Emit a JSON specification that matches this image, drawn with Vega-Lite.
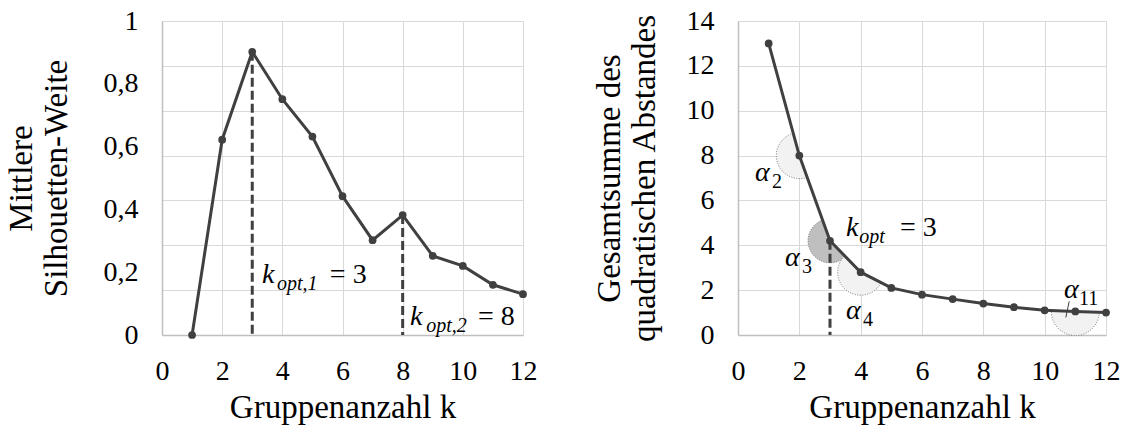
{
  "$schema": "https://vega.github.io/schema/vega-lite/v6.json",
  "padding": {"left": 5, "top": 7, "right": 3, "bottom": 3},
  "spacing": 56,
  "config": {
    "view": {"stroke": null},
    "font": "Times New Roman",
    "axis": {
      "labelFont": "Times New Roman", "labelFontSize": 28, "labelColor": "black",
      "titleFont": "Times New Roman", "titleFontSize": 33, "titleFontWeight": "normal", "titleColor": "black",
      "ticks": false, "gridColor": "#d9d9d9", "gridWidth": 1, "domainColor": "#bfbfbf", "domainWidth": 1.5,
      "labelFlush": false, "labelOverlap": false
    }
  },
  "datasets": {
    "sil": [
      {"k": 1, "v": 0}, {"k": 2, "v": 0.622}, {"k": 3, "v": 0.902}, {"k": 4, "v": 0.751},
      {"k": 5, "v": 0.632}, {"k": 6, "v": 0.442}, {"k": 7, "v": 0.302}, {"k": 8, "v": 0.382},
      {"k": 9, "v": 0.252}, {"k": 10, "v": 0.22}, {"k": 11, "v": 0.16}, {"k": 12, "v": 0.13}
    ],
    "ssd": [
      {"k": 1, "v": 13.0}, {"k": 2, "v": 8.0}, {"k": 3, "v": 4.2}, {"k": 4, "v": 2.8},
      {"k": 5, "v": 2.1}, {"k": 6, "v": 1.8}, {"k": 7, "v": 1.6}, {"k": 8, "v": 1.4},
      {"k": 9, "v": 1.24}, {"k": 10, "v": 1.1}, {"k": 11, "v": 1.05}, {"k": 12, "v": 1.0}
    ],
    "silOpt": [{"k": 3, "v": 0.902}, {"k": 8, "v": 0.382}],
    "ssdOpt": [{"k": 3, "v": 4.2}],
    "silAnn": [
      {"k": 3.32, "v": 0.166, "t": "k", "kind": "mi"},
      {"k": 3.82, "v": 0.166, "t": "opt,1", "kind": "sub"},
      {"k": 5.58, "v": 0.166, "t": "= 3", "kind": "mr"},
      {"k": 8.24, "v": 0.032, "t": "k", "kind": "mi"},
      {"k": 8.78, "v": 0.032, "t": "opt,2", "kind": "sub"},
      {"k": 10.5, "v": 0.032, "t": "= 8", "kind": "mr"}
    ],
    "ssdAnn": [
      {"k": 3.52, "v": 4.41, "t": "k", "kind": "mi"},
      {"k": 3.95, "v": 4.41, "t": "opt", "kind": "sub"},
      {"k": 5.28, "v": 4.41, "t": "= 3", "kind": "mr"},
      {"k": 0.554, "v": 6.87, "t": "α", "kind": "mi"},
      {"k": 1.11, "v": 6.87, "t": "2", "kind": "subr"},
      {"k": 1.53, "v": 3.08, "t": "α", "kind": "mi"},
      {"k": 2.09, "v": 3.08, "t": "3", "kind": "subr"},
      {"k": 3.52, "v": 0.71, "t": "α", "kind": "mi"},
      {"k": 4.08, "v": 0.71, "t": "4", "kind": "subr"},
      {"k": 10.63, "v": 1.67, "t": "α", "kind": "mi"},
      {"k": 11.12, "v": 1.67, "t": "11", "kind": "subr"}
    ],
    "leader": [{"k": 10.8, "v": 1.5, "k2": 10.69, "v2": 0.78}]
  },
  "hconcat": [
    {
      "width": 361,
      "height": 314,
      "encoding": {
        "x": {
          "field": "k", "type": "quantitative",
          "scale": {"domain": [0, 12], "nice": false},
          "axis": {"values": [0, 2, 4, 6, 8, 10, 12], "grid": true, "domain": true, "labelPadding": 22, "titlePadding": 6, "title": "Gruppenanzahl k"}
        }
      },
      "layer": [
        {
          "data": {"name": "silOpt"},
          "mark": {"type": "rule", "strokeDash": [9, 4], "strokeWidth": 3, "color": "#404040"},
          "encoding": {
            "y": {
              "field": "v", "type": "quantitative", "scale": {"domain": [0, 1], "nice": false},
              "axis": {"orient": "left", "grid": true, "labels": false, "domain": false, "title": null,
                       "values": [0, 0.142857, 0.285714, 0.428571, 0.571429, 0.714286, 0.857143, 1]}
            },
            "y2": {"datum": 0}
          }
        },
        {
          "data": {"name": "sil"},
          "mark": {"type": "line", "color": "#404040", "strokeWidth": 3, "point": {"filled": true, "size": 60, "color": "#404040"}},
          "encoding": {
            "y": {
              "field": "v", "type": "quantitative",
              "axis": {"orient": "left", "grid": false, "domain": true, "values": [0, 0.2, 0.4, 0.6, 0.8, 1],
                       "labelExpr": "replace(format(datum.value, '~g'), '.', ',')",
                       "labelPadding": 24, "titlePadding": 30,
                       "title": ["Mittlere", "Silhouetten-Weite"]}
            }
          }
        },
        {
          "data": {"name": "silAnn"},
          "transform": [{"filter": "datum.kind == 'mi'"}],
          "mark": {"type": "text", "font": "Times New Roman", "fontStyle": "italic", "fontSize": 28, "align": "left", "baseline": "alphabetic", "color": "black"},
          "encoding": {"y": {"field": "v", "type": "quantitative", "axis": null}, "text": {"field": "t"}}
        },
        {
          "data": {"name": "silAnn"},
          "transform": [{"filter": "datum.kind == 'sub'"}],
          "mark": {"type": "text", "font": "Times New Roman", "fontStyle": "italic", "fontSize": 20, "align": "left", "baseline": "alphabetic", "dy": 7, "color": "black"},
          "encoding": {"y": {"field": "v", "type": "quantitative", "axis": null}, "text": {"field": "t"}}
        },
        {
          "data": {"name": "silAnn"},
          "transform": [{"filter": "datum.kind == 'mr'"}],
          "mark": {"type": "text", "font": "Times New Roman", "fontSize": 28, "align": "left", "baseline": "alphabetic", "color": "black"},
          "encoding": {"y": {"field": "v", "type": "quantitative", "axis": null}, "text": {"field": "t"}}
        }
      ],
      "resolve": {"axis": {"y": "independent"}}
    },
    {
      "width": 368,
      "height": 314,
      "encoding": {
        "x": {
          "field": "k", "type": "quantitative",
          "scale": {"domain": [0, 12], "nice": false},
          "axis": {"values": [0, 2, 4, 6, 8, 10, 12], "grid": true, "domain": true, "labelPadding": 22, "titlePadding": 6, "title": "Gruppenanzahl k"}
        },
        "y": {
          "field": "v", "type": "quantitative",
          "scale": {"domain": [0, 14], "nice": false},
          "axis": {"values": [0, 2, 4, 6, 8, 10, 12, 14], "grid": true, "domain": true, "labelPadding": 24, "titlePadding": 25,
                   "title": ["Gesamtsumme des", "quadratischen Abstandes"]}
        }
      },
      "layer": [
        {
          "data": {"name": "ssd"},
          "transform": [{"filter": "datum.k == 2"}],
          "mark": {"type": "arc", "radius": 23, "theta": 2.796, "theta2": 6.016, "fill": "#f2f2f2", "stroke": "#595959", "strokeWidth": 0.8, "strokeDash": [1, 1.5]}
        },
        {
          "data": {"name": "ssd"},
          "transform": [{"filter": "datum.k == 3"}],
          "mark": {"type": "arc", "radius": 22, "theta": 2.368, "theta2": 5.938, "fill": "#bfbfbf", "stroke": "#595959", "strokeWidth": 0.8, "strokeDash": [1, 1.5]}
        },
        {
          "data": {"name": "ssd"},
          "transform": [{"filter": "datum.k == 4"}],
          "mark": {"type": "arc", "radius": 23, "theta": 2.044, "theta2": 5.51, "fill": "#f2f2f2", "stroke": "#595959", "strokeWidth": 0.8, "strokeDash": [1, 1.5]}
        },
        {
          "data": {"name": "ssd"},
          "transform": [{"filter": "datum.k == 11"}],
          "mark": {"type": "arc", "radius": 24, "theta": 1.607, "theta2": 4.749, "fill": "#f2f2f2", "stroke": "#595959", "strokeWidth": 0.8, "strokeDash": [1, 1.5]}
        },
        {
          "data": {"name": "ssdOpt"},
          "mark": {"type": "rule", "strokeDash": [9, 4], "strokeWidth": 3, "color": "#404040"},
          "encoding": {"y2": {"datum": 0}}
        },
        {
          "data": {"name": "leader"},
          "mark": {"type": "rule", "strokeWidth": 1, "color": "#404040"},
          "encoding": {"x2": {"field": "k2"}, "y2": {"field": "v2"}}
        },
        {
          "data": {"name": "ssd"},
          "mark": {"type": "line", "color": "#404040", "strokeWidth": 3, "point": {"filled": true, "size": 60, "color": "#404040"}}
        },
        {
          "data": {"name": "ssdAnn"},
          "transform": [{"filter": "datum.kind == 'mi'"}],
          "mark": {"type": "text", "font": "Times New Roman", "fontStyle": "italic", "fontSize": 28, "align": "left", "baseline": "alphabetic", "color": "black"},
          "encoding": {"text": {"field": "t"}}
        },
        {
          "data": {"name": "ssdAnn"},
          "transform": [{"filter": "datum.kind == 'sub'"}],
          "mark": {"type": "text", "font": "Times New Roman", "fontStyle": "italic", "fontSize": 20, "align": "left", "baseline": "alphabetic", "dy": 7, "color": "black"},
          "encoding": {"text": {"field": "t"}}
        },
        {
          "data": {"name": "ssdAnn"},
          "transform": [{"filter": "datum.kind == 'subr'"}],
          "mark": {"type": "text", "font": "Times New Roman", "fontSize": 20, "align": "left", "baseline": "alphabetic", "dy": 7, "color": "black"},
          "encoding": {"text": {"field": "t"}}
        },
        {
          "data": {"name": "ssdAnn"},
          "transform": [{"filter": "datum.kind == 'mr'"}],
          "mark": {"type": "text", "font": "Times New Roman", "fontSize": 28, "align": "left", "baseline": "alphabetic", "color": "black"},
          "encoding": {"text": {"field": "t"}}
        }
      ]
    }
  ]
}
